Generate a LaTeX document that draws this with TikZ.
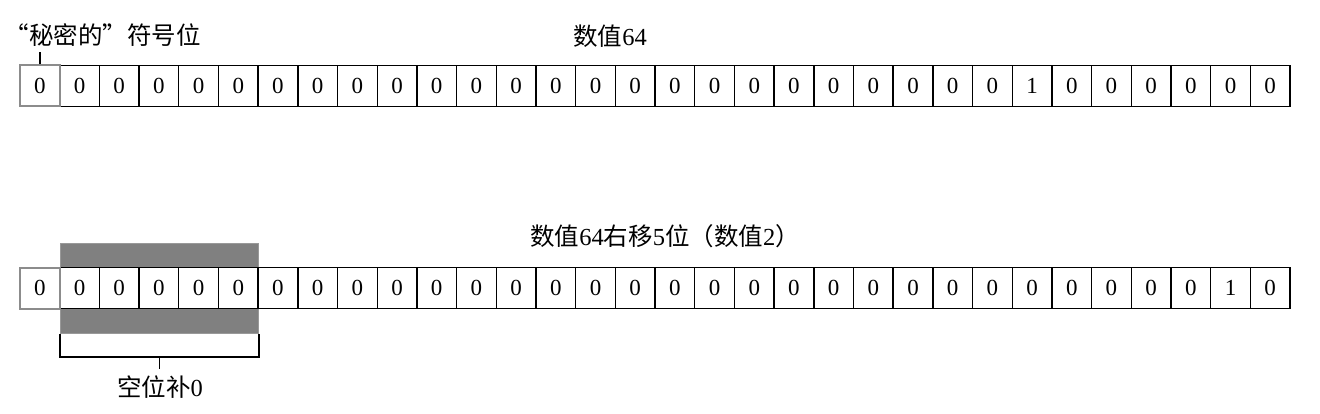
\documentclass[tikz,border=0pt]{standalone}
\usepackage{fontspec}
\usetikzlibrary{calc}
\setmainfont{Liberation Serif}
\newfontfamily\cjk{Noto Sans CJK SC}
\newcommand{\zh}[1]{{\cjk #1}}
\begin{document}
\begin{tikzpicture}[x=1pt,y=-1pt,
  cell/.style={draw=black, line width=1.4pt, fill=white, minimum width=39.69pt, minimum height=41pt, inner sep=0pt, font=\fontsize{23}{26}\selectfont},
  signcell/.style={cell, draw=black!45, line width=2pt},
  lbl/.style={inner sep=0pt, font=\fontsize{24.5}{28}\selectfont},
  band/.style={fill=black!50, draw=black!40, line width=0.8pt},
  brk/.style={draw=black, line width=1.4pt}]
\useasboundingbox (0,0) rectangle (1320,414);
\fill[white] (0,0) rectangle (1320,414);
% gray band behind the shifted-in bits
\node[band, minimum width=198pt, minimum height=90pt, inner sep=0pt, anchor=north west] (band) at (60,243) {};
% top row: 64
\foreach \i in {0,...,31} {
  \pgfmathsetmacro{\cx}{20+39.69*(\i+0.5)}
  \ifnum\i=25 \def\d{1}\else\def\d{0}\fi
  \node[cell] (a\i) at (\cx,86) {\d};
}
% bottom row: 2
\foreach \i in {0,...,31} {
  \pgfmathsetmacro{\cx}{20+39.69*(\i+0.5)}
  \ifnum\i=30 \def\d{1}\else\def\d{0}\fi
  \node[cell] (b\i) at (\cx,288) {\d};
}
\node[signcell] (a0s) at (a0) {0};
\node[signcell] (b0s) at (b0) {0};
% labels
\node[lbl] (sign) at (103,35) {\zh{“秘密的”符号位}};
\draw[brk] (a0s.north) -- ++(0,-12) coordinate (signtick);
\node[lbl] (v64) at (610,36) {\zh{数值}64};
\node[lbl] (v2) at (665,236) {\zh{数值}64\zh{右移}5\zh{位（数值}2\zh{）}};
% bracket
\coordinate (bl) at (band.south west);
\coordinate (br) at (band.south east);
\draw[brk] (bl) -- ++(0,23) -| (br);
\coordinate (bm) at ($(bl)!0.5!(br)+(0,23)$);
\draw[brk] (bm) -- ++(0,12) coordinate (bt);
\node[lbl] (fill0) at (160,387) {\zh{空位补}0};
\end{tikzpicture}
\end{document}
